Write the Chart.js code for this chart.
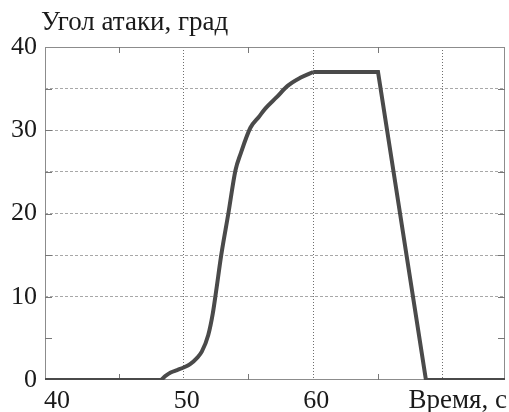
<!DOCTYPE html>
<html><head><meta charset="utf-8">
<script src="https://cdn.jsdelivr.net/npm/chart.js@4/dist/chart.umd.min.js"></script>
<style>html,body{margin:0;padding:0;background:#fff}#wrap{width:509px;height:412px;position:relative}</style>
</head><body><div id="wrap"><canvas id="c" width="509" height="412"></canvas></div>
<script>
// --- data ---
const timeRise  = [39.3, 48.2, 48.6, 49.0, 49.5, 50.0, 50.5, 51.0, 51.4, 51.9, 52.25, 52.5, 52.9, 53.45, 54.0, 54.4, 55.15, 55.8, 56.3, 57.2, 58.0, 59.0, 60.0];
const angleRise = [0,    0,    0.5,  0.9,  1.2,  1.5,  1.9,  2.6,  3.4,  5.4,  8.0,   10.6, 15,   20,    25.2, 27.2, 30.3,  31.6, 32.6, 34.0, 35.3, 36.3, 37.0];
const timeHold  = [60.0, 65.0, 68.7, 74.8];
const angleHold = [37.0, 37.0, 0,    0];
const xTickValues = [40, 50, 60, 70];
const xTickLabels = ['40', '50', '60', 'Время, с'];
const yTickValues = [0, 5, 10, 15, 20, 25, 30, 35, 40];
const yTickLabels = ['0', '', '10', '', '20', '', '30', '', '40'];
const yTitle = 'Угол атаки, град';
const xMin = 39.3, xMax = 74.8, yMin = 0, yMax = 40;

const FAMILY = '"Liberation Serif", "DejaVu Serif", serif';
const NUMFONT = {family: FAMILY, size: 26};
const TEXTSIZE = 27;
const LINE = '#4a4a4a';

const toPts = (xs, ys) => xs.map((x, i) => ({x: x, y: ys[i]}));

const decor = {
  id: 'decor',
  beforeDatasetsDraw(chart) {
    const {ctx, chartArea: a, scales} = chart;
    const xs = scales.x, ys = scales.y;
    ctx.save();
    ctx.strokeStyle = '#8c8c8c';
    ctx.lineWidth = 1;
    ctx.strokeRect(Math.round(a.left) + 0.5, Math.round(a.top) + 0.5, Math.round(a.right - a.left) - 1, Math.round(a.bottom - a.top) - 1);
    ctx.strokeStyle = '#777';
    ctx.beginPath();
    for (let v = 45; v < xMax; v += 10) {
      const px = Math.round(xs.getPixelForValue(v)) + 0.5;
      ctx.moveTo(px, a.bottom); ctx.lineTo(px, a.bottom - 6);
      ctx.moveTo(px, a.top); ctx.lineTo(px, a.top + 6);
    }
    for (const v of yTickValues) {
      if (v === yMin || v === yMax) continue;
      const py = Math.round(ys.getPixelForValue(v)) + 0.5;
      ctx.moveTo(a.left, py); ctx.lineTo(a.left + 7, py);
      ctx.moveTo(a.right, py); ctx.lineTo(a.right - 7, py);
    }
    ctx.stroke();
    ctx.restore();
  },
  afterDraw(chart) {
    const {ctx} = chart;
    ctx.save();
    ctx.fillStyle = '#1a1a1a';
    ctx.font = TEXTSIZE + 'px ' + FAMILY;
    ctx.textBaseline = 'alphabetic';
    ctx.textAlign = 'left';
    ctx.fillText(yTitle, 41, 30);
    ctx.textAlign = 'right';
    ctx.fillText(xTickLabels[xTickLabels.length - 1], 507, 408);
    ctx.restore();
  }
};

new Chart(document.getElementById('c'), {
  type: 'scatter',
  data: {
    datasets: [
      {data: toPts(timeRise, angleRise), showLine: true, borderColor: LINE, borderWidth: 4, pointRadius: 0, cubicInterpolationMode: 'monotone', fill: false},
      {data: toPts(timeHold, angleHold), showLine: true, borderColor: LINE, borderWidth: 4, pointRadius: 0, tension: 0, fill: false, borderJoinStyle: 'miter'}
    ]
  },
  options: {
    responsive: false,
    animation: false,
    devicePixelRatio: 1,
    layout: {padding: {top: 47, right: 4, left: 0, bottom: 0}},
    plugins: {legend: {display: false}, tooltip: {enabled: false}, title: {display: false}},
    scales: {
      x: {
        type: 'linear', min: xMin, max: xMax,
        afterBuildTicks: s => { s.ticks = xTickValues.map(v => ({value: v})); },
        afterFit: s => { s.height = 32; },
        ticks: {
          font: NUMFONT, color: '#1a1a1a', padding: 6, labelOffset: 3, maxRotation: 0, autoSkip: false,
          callback: (v) => { const i = xTickValues.indexOf(v); return (i >= 0 && i < xTickLabels.length - 1) ? xTickLabels[i] : ''; }
        },
        grid: {
          drawTicks: false,
          color: ctx => (ctx.tick && ctx.tick.value > 40 && ctx.tick.value < xMax) ? '#6e6e6e' : 'rgba(0,0,0,0)',
          lineWidth: 1
        },
        border: {display: false, dash: [1, 2]}
      },
      y: {
        type: 'linear', min: yMin, max: yMax,
        afterBuildTicks: s => { s.ticks = yTickValues.map(v => ({value: v})); },
        afterFit: s => { s.width = 45; },
        ticks: {
          font: NUMFONT, color: '#1a1a1a', padding: 8, autoSkip: false,
          callback: (v) => { const i = yTickValues.indexOf(v); return i >= 0 ? yTickLabels[i] : ''; }
        },
        grid: {
          drawTicks: false,
          color: ctx => (ctx.tick && ctx.tick.value >= 10 && ctx.tick.value < yMax) ? '#a8a8a8' : 'rgba(0,0,0,0)',
          lineWidth: 1
        },
        border: {display: false, dash: [3, 2]}
      }
    }
  },
  plugins: [decor]
});
</script>
</body></html>
